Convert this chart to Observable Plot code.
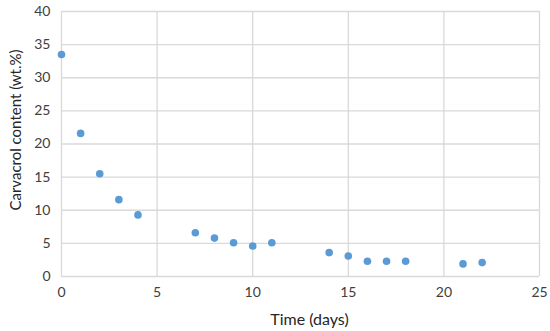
<!DOCTYPE html>
<html>
<head>
<meta charset="utf-8">
<script src="https://cdn.jsdelivr.net/npm/d3@7"></script>
<script src="https://cdn.jsdelivr.net/npm/@observablehq/plot@0.6"></script>
<style>
  body { margin: 0; background: #fff; }
  #chart svg { display: block; }
</style>
</head>
<body>
<div id="chart"></div>
<script>
const days = [0, 1, 2, 3, 4, 7, 8, 9, 10, 11, 14, 15, 16, 17, 18, 21, 22];
const carvacrol = [33.5, 21.6, 15.5, 11.6, 9.3, 6.6, 5.8, 5.1, 4.6, 5.1, 3.6, 3.1, 2.3, 2.3, 2.3, 1.9, 2.1];
const xTicks = [0, 5, 10, 15, 20, 25];
const yTicks = [0, 5, 10, 15, 20, 25, 30, 35, 40];
const xLabel = "Time (days)";
const yLabel = "Carvacrol content (wt.%)";

const data = days.map((d, i) => ({day: d, value: carvacrol[i]}));

const chart = Plot.plot({
  width: 550,
  height: 331,
  marginLeft: 61,
  marginRight: 11,
  marginTop: 11,
  marginBottom: 55,
  style: {fontFamily: "Lato, 'Open Sans', sans-serif", fontSize: "14px", color: "#404040", background: "#fff"},
  x: {domain: [0, 25], ticks: xTicks},
  y: {domain: [0, 40], ticks: yTicks},
  marks: [
    Plot.gridX(xTicks, {stroke: "#d9d9d9", strokeOpacity: 1, strokeWidth: 1.3}),
    Plot.gridY(yTicks, {stroke: "#d9d9d9", strokeOpacity: 1, strokeWidth: 1.3}),
    Plot.axisX(xTicks, {tickSize: 0, tickPadding: 11, label: null, fontSize: 14}),
    Plot.axisY(yTicks, {tickSize: 0, tickPadding: 11, label: null, fontSize: 14}),
    Plot.text([xLabel], {frameAnchor: "bottom", textAnchor: "middle", lineAnchor: "middle", dx: 9, dy: 43, text: d => d, fontSize: 16, fill: "#262626"}),
    Plot.text([yLabel], {frameAnchor: "left", textAnchor: "middle", lineAnchor: "middle", rotate: -90, dx: -45, dy: -14, text: d => d, fontSize: 15, fill: "#262626"}),
    Plot.dot(data, {x: "day", y: "value", r: 3.8, fill: "#5B9BD5", stroke: "none"})
  ]
});
document.getElementById("chart").appendChild(chart);
</script>
</body>
</html>
